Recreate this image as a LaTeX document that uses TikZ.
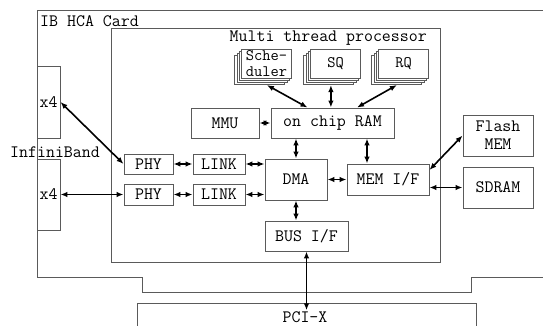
\documentclass[tikz,border=0pt]{standalone}
\usepackage{fontspec}
\usetikzlibrary{arrows.meta}
\definecolor{edgegray}{HTML}{5A5A5A}
\tikzset{
  blk/.style={draw=edgegray, line width=0.9pt, fill=white, inner sep=0pt,
              minimum width=#1},
  blk/.default=50pt,
  lbl/.style={inner sep=0pt},
  link/.style={line width=1.6pt, {Latex[length=7pt,width=5.5pt]}-{Latex[length=7pt,width=5.5pt]}},
  outline/.style={draw=edgegray, line width=0.9pt},
}
\newcommand{\stackbox}[3]{%
  % three shifted copies behind the front card
  \node[blk, minimum height=29pt] (#1C) at (#2-6.6,63.5+6.6) {};
  \node[blk, minimum height=29pt] (#1B) at (#2-4.4,63.5+4.4) {};
  \node[blk, minimum height=29pt] (#1A) at (#2-2.2,63.5+2.2) {};
  \node[blk, minimum height=29pt, align=center,
        font=\ttfamily\fontsize{16}{15.5}\selectfont] (#1) at (#2,63.5) {#3};
}
\begin{document}
\begin{tikzpicture}[x=1pt, y=-1pt, font=\ttfamily\fontsize{17.4}{18}\selectfont]
\useasboundingbox (0,0) rectangle (543,326);

% card outline with the edge connector
\draw[outline] (543,10) -- (37,10) -- (37,277) -- (142,277) -- (142,292)
  -- (471,292) -- (471,277) -- (543,277);
% PCI-X slot
\draw[outline] (137,326) -- (137,303) -- (476,303) -- (476,326);
% processor chip
\draw[outline] (111,28) rectangle (440,262);

\node[lbl, anchor=west] (card) at (40,21) {IB HCA Card};
\node[lbl, anchor=east] (proc) at (427,38) {Multi thread processor};
\node[lbl] (ib) at (55,152) {InfiniBand};
\node[lbl] (pcix) at (305,317) {PCI-X};

% InfiniBand ports
\node[blk=23pt, minimum height=72pt] (x4a) at (48.5,102) {x4};
\node[blk=23pt, minimum height=71pt] (x4b) at (48.5,194.5) {x4};

% link layer
\node[blk=49pt, minimum height=20pt] (phyA) at (148.5,164) {PHY};
\node[blk=49pt, minimum height=21pt] (phyB) at (148.5,194.5) {PHY};
\node[blk=52pt, minimum height=20pt] (linkA) at (219,164) {LINK};
\node[blk=52pt, minimum height=21pt] (linkB) at (219,194.5) {LINK};

% core blocks
\node[blk=62pt, minimum height=41pt] (dma) at (296,179.5) {DMA};
\node[blk=82pt, minimum height=31pt] (memif) at (388,179.5) {MEM I/F};
\node[blk=83pt, minimum height=30pt] (busif) at (306.5,236) {BUS I/F};
\node[blk=123pt, minimum height=30pt] (ram) at (332.5,123) {on chip RAM};
\node[blk=68pt, minimum height=30pt] (mmu) at (225,123) {MMU};

% external memories
\node[blk=70pt, minimum height=41pt, align=center] (flash) at (498,135.5) {Flash\\MEM};
\node[blk=70pt, minimum height=41pt] (sdram) at (498,187.5) {SDRAM};

% thread contexts
\stackbox{sched}{266.5}{Sche-\\duler}
\stackbox{sq}{335.5}{SQ}
\stackbox{rq}{403.5}{RQ}

% connections
\draw[link] ([xshift=7pt]schedC.south) -- ([xshift=-25pt]ram.north);
\draw[link] ([xshift=2pt]sqC.south) -- ([xshift=2pt]sqC.south |- ram.north);
\draw[link] (rqC.south) -- ([xshift=24.5pt]ram.north);
\draw[link] (mmu) -- (ram);
\draw[link] (ram.south -| dma.north) -- (dma.north);
\draw[link] ([xshift=-21pt]memif.north |- ram.south) -- ([xshift=-21pt]memif.north);
\draw[link] (x4a.east) -- (phyA.west);
\draw[link] (x4b) -- (phyB);
\draw[link] (phyA) -- (linkA);
\draw[link] (phyB) -- (linkB);
\draw[link] (linkA.east) -- (linkA.east -| dma.west);
\draw[link] (linkB.east) -- (linkB.east -| dma.west);
\draw[link] (dma) -- (memif);
\draw[link] ([yshift=9.5pt]memif.east) -- (flash.west);
\draw[link] (memif.east |- sdram.west) -- (sdram.west);
\draw[link] (dma.south) -- (dma.south |- busif.north);
\draw[link] (busif.south) -- ([yshift=1pt]busif.south |- pcix.north);
\end{tikzpicture}
\end{document}
